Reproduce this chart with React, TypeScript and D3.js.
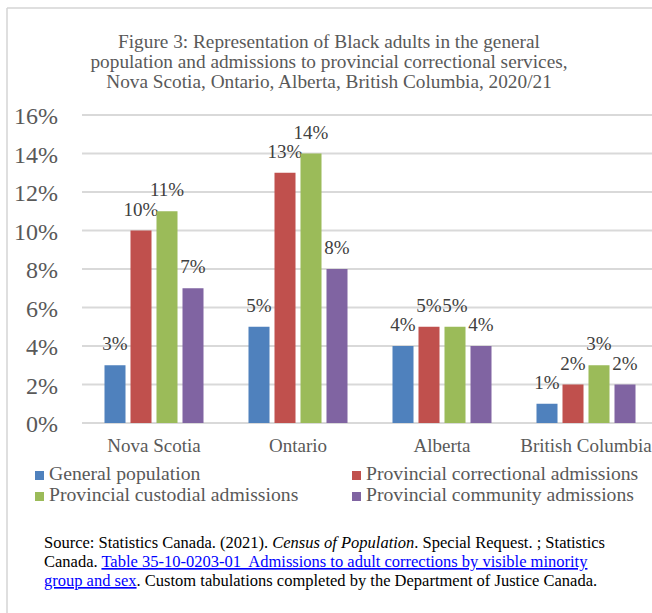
import React from "react";
import * as d3 from "d3";

// Provinces shown along the x axis
const provinces = ["Nova Scotia", "Ontario", "Alberta", "British Columbia"];

// Share of Black adults (%) in each group, by province
const generalPopulation = [3, 5, 4, 1];
const correctionalAdmissions = [10, 13, 5, 2];
const custodialAdmissions = [11, 14, 5, 3];
const communityAdmissions = [7, 8, 4, 2];

const seriesNames = [
  "General population",
  "Provincial correctional admissions",
  "Provincial custodial admissions",
  "Provincial community admissions",
];
const seriesColors = ["#4f81bd", "#c0504d", "#9bbb59", "#8064a2"];
const seriesValues = [
  generalPopulation,
  correctionalAdmissions,
  custodialAdmissions,
  communityAdmissions,
];

const yTicks = [0, 2, 4, 6, 8, 10, 12, 14, 16];

const titleLines = [
  "Figure 3: Representation of Black adults in the general",
  "population and admissions to provincial correctional services,",
  "Nova Scotia, Ontario, Alberta, British Columbia, 2020/21",
];

const W = 652;
const H = 613;
const FONT = "'Liberation Serif', 'Times New Roman', serif";
const GREY = "#595959";

export default function App() {
  const plotLeft = 82;
  const plotRight = 658;
  const y = d3.scaleLinear().domain([0, 16]).range([423, 115]);

  const x0 = d3
    .scaleBand<string>()
    .domain(provinces)
    .range([plotLeft, plotRight])
    .paddingInner(0.2778)
    .paddingOuter(0.1389);

  const x1 = d3
    .scaleBand<number>()
    .domain(d3.range(seriesNames.length))
    .range([0, x0.bandwidth()])
    .paddingInner(0.192)
    .paddingOuter(0.096);

  const legendItems = [
    { i: 0, x: 35, y: 480 },
    { i: 1, x: 352, y: 480 },
    { i: 2, x: 35, y: 501 },
    { i: 3, x: 352, y: 501 },
  ];

  return (
    <div style={{ position: "absolute", left: 0, top: 0 }}>
      <svg width={W} height={H} style={{ display: "block", background: "#fff" }}>
        {/* frame */}
        <line x1={7} x2={W} y1={8} y2={8} stroke="#d4d4d4" strokeWidth={1.5} />
        <line x1={7} x2={7} y1={8} y2={H} stroke="#d4d4d4" strokeWidth={1.5} />

        {/* title */}
        <g fontFamily={FONT} fontSize={19.3} fill={GREY} textAnchor="middle">
          {titleLines.map((t, i) => (
            <text key={i} x={329} y={48 + i * 20}>
              {t}
            </text>
          ))}
        </g>

        {/* gridlines and y tick labels */}
        <g>
          {yTicks.map((t) => (
            <g key={t}>
              <line
                x1={plotLeft}
                x2={W}
                y1={y(t)}
                y2={y(t)}
                stroke="#d9d9d9"
                strokeWidth={2}
              />
              <text
                x={58}
                y={y(t) + 9}
                textAnchor="end"
                fontFamily={FONT}
                fontSize={24}
                fill={GREY}
              >
                {t}%
              </text>
            </g>
          ))}
        </g>

        {/* bars and value labels */}
        {provinces.map((p, pi) => (
          <g key={p} transform={`translate(${x0(p)},0)`}>
            {seriesValues.map((vals, si) => {
              const v = vals[pi];
              const bx = x1(si)!;
              return (
                <g key={si}>
                  <rect
                    x={bx}
                    y={y(v)}
                    width={x1.bandwidth()}
                    height={y(0) - y(v)}
                    fill={seriesColors[si]}
                  />
                  <text
                    x={bx + x1.bandwidth() / 2}
                    y={y(v) - 15}
                    textAnchor="middle"
                    fontFamily={FONT}
                    fontSize={19}
                    fill="#404040"
                  >
                    {v}%
                  </text>
                </g>
              );
            })}
          </g>
        ))}

        {/* category labels */}
        {provinces.map((p) => (
          <text
            key={p}
            x={x0(p)! + x0.bandwidth() / 2}
            y={452}
            textAnchor="middle"
            fontFamily={FONT}
            fontSize={19}
            fill={GREY}
          >
            {p}
          </text>
        ))}

        {/* legend */}
        {legendItems.map(({ i, x, y: ly }) => (
          <g key={i}>
            <rect x={x} y={ly - 9} width={9} height={9} fill={seriesColors[i]} />
            <text x={x + 14} y={ly} fontFamily={FONT} fontSize={19.7} fill={GREY}>
              {seriesNames[i]}
            </text>
          </g>
        ))}

        {/* source note */}
        <g fontFamily={FONT} fontSize={16.5} fill="#000">
          <text x={44} y={548}>
            Source: Statistics Canada. (2021).{" "}
            <tspan fontStyle="italic">Census of Population</tspan>. Special Request. ; Statistics
          </text>
          <text x={44} y={567} style={{ whiteSpace: "pre" }}>
            {"Canada. "}
            <tspan fill="#0000ff" textDecoration="underline">
              {"Table 35-10-0203-01  Admissions to adult corrections by visible minority"}
            </tspan>
          </text>
          <text x={44} y={586}>
            <tspan fill="#0000ff" textDecoration="underline">
              group and sex
            </tspan>
            . Custom tabulations completed by the Department of Justice Canada.
          </text>
        </g>
      </svg>
    </div>
  );
}
